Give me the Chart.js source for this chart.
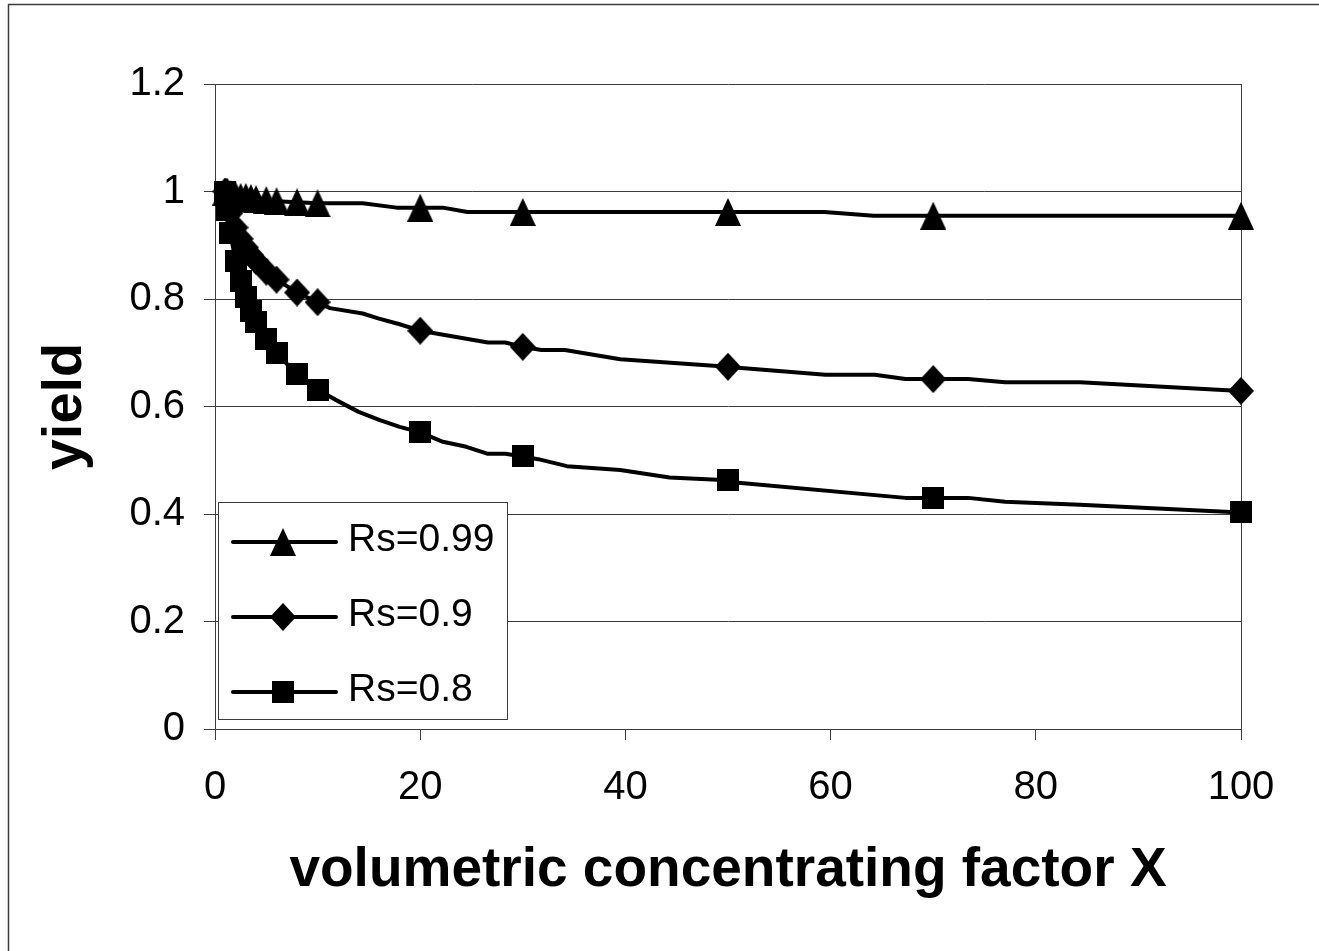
<!DOCTYPE html>
<html>
<head>
<meta charset="utf-8">
<title>yield vs volumetric concentrating factor</title>
<script src="https://cdn.jsdelivr.net/npm/chart.js@4.4.1/dist/chart.umd.min.js"></script>
<style>
  html, body { margin: 0; padding: 0; background: #fff; }
</style>
</head>
<body>
<canvas id="yieldChart" width="1319" height="951"></canvas>
<script>
// x positions carrying a marker, shared by all three curves
const markerX = [1, 1.2, 1.5, 2, 2.5, 3, 3.5, 4, 5, 6, 8, 10, 20, 30, 50, 70, 100];
const yieldRs099 = [1.0, 1.0, 0.995, 0.993, 0.99, 0.99, 0.988, 0.986, 0.984, 0.982, 0.98, 0.978, 0.97, 0.962, 0.962, 0.955, 0.955];
const yieldRs09 = [1.0, 0.98, 0.96, 0.933, 0.912, 0.896, 0.882, 0.871, 0.851, 0.836, 0.812, 0.794, 0.741, 0.711, 0.674, 0.651, 0.629];
const yieldRs08 = [1.0, 0.965, 0.922, 0.871, 0.833, 0.803, 0.778, 0.758, 0.725, 0.699, 0.66, 0.631, 0.552, 0.507, 0.463, 0.43, 0.403];

// extra (unmarked) points the curves pass through
const knotX099 = [14.4, 17.7, 22.2, 24.6, 59.4, 64.2];
const knotY099 = [0.978, 0.97, 0.97, 0.962, 0.962, 0.955];
const knotX09 = [11.2, 14.4, 15.9, 18, 26.6, 28.3, 31.8, 34.1, 39.5, 51, 59.5, 64.3, 67.3, 73.4, 77, 84.3];
const knotY09 = [0.783, 0.773, 0.764, 0.753, 0.719, 0.719, 0.705, 0.705, 0.688, 0.672, 0.659, 0.659, 0.651, 0.651, 0.645, 0.645];
const knotX08 = [12, 14, 16, 18, 22.1, 24.5, 26.6, 28.3, 31.5, 34.3, 39.5, 44.3, 51, 67.3, 73.4, 77, 84.3];
const knotY08 = [0.61, 0.59, 0.575, 0.562, 0.535, 0.525, 0.512, 0.512, 0.502, 0.489, 0.482, 0.468, 0.458, 0.43, 0.43, 0.423, 0.417];

const seriesLabels = ["Rs=0.99", "Rs=0.9", "Rs=0.8"];

const FONT = '"Liberation Sans", Arial, sans-serif';
const gridColor = "#3c3c3c";

function buildSeries(ys, kx, ky) {
  const pts = markerX.map((x, i) => ({ x: x, y: ys[i], marked: true }));
  kx.forEach((x, i) => pts.push({ x: x, y: ky[i], marked: false }));
  return pts.sort((a, b) => a.x - b.x);
}

// small sprites used as point styles (and reused by the legend)
function makeMarker(shape, w, h) {
  const c = document.createElement("canvas");
  c.width = w;
  c.height = h;
  const g = c.getContext("2d");
  g.fillStyle = "#000";
  g.beginPath();
  if (shape === "triangle") {
    g.moveTo(w / 2, 0);
    g.lineTo(w, h);
    g.lineTo(0, h);
  } else if (shape === "diamond") {
    g.moveTo(w / 2, 0);
    g.lineTo(w, h / 2);
    g.lineTo(w / 2, h);
    g.lineTo(0, h / 2);
  } else {
    g.rect(0, 0, w, h);
  }
  g.closePath();
  g.fill();
  return c;
}

const markers = [
  makeMarker("triangle", 26, 28),
  makeMarker("diamond", 26, 28),
  makeMarker("square", 22, 22),
];

function makeDataset(i, pts) {
  return {
    label: seriesLabels[i],
    data: pts,
    borderColor: "#000",
    borderWidth: 4,
    borderJoinStyle: "round",
    borderCapStyle: "round",
    tension: 0,
    fill: false,
    clip: false,
    pointStyle: markers[i],
    pointRadius: (c) => (c.raw && c.raw.marked ? 12 : 0),
    pointHoverRadius: 0,
  };
}

// frame around the whole figure
const outerFrame = {
  id: "outerFrame",
  beforeDraw(chart) {
    const ctx = chart.ctx;
    ctx.save();
    ctx.fillStyle = "#fff";
    ctx.fillRect(0, 0, chart.width, chart.height);
    ctx.strokeStyle = gridColor;
    ctx.lineWidth = 1.5;
    ctx.strokeRect(8.5, 4.5, chart.width + 10, chart.height + 10);
    ctx.restore();
  },
};

// boxed legend sitting in the lower-left corner of the plot
const insetLegend = {
  id: "insetLegend",
  afterDatasetsDraw(chart) {
    const { ctx, chartArea } = chart;
    const left = chartArea.left + 3;
    const right = chartArea.left + 292;
    const top = chartArea.bottom - 227;
    const bottom = chartArea.bottom - 10;
    ctx.save();
    ctx.fillStyle = "#fff";
    ctx.fillRect(left, top, right - left, bottom - top);
    ctx.strokeStyle = gridColor;
    ctx.lineWidth = 1;
    ctx.strokeRect(left + 0.5, top + 0.5, right - left, bottom - top);
    chart.data.datasets.forEach((ds, i) => {
      const y = top + 40 + i * 75;
      ctx.strokeStyle = "#000";
      ctx.lineWidth = 4;
      ctx.lineCap = "round";
      ctx.beginPath();
      ctx.moveTo(left + 15, y);
      ctx.lineTo(left + 118, y);
      ctx.stroke();
      const m = ds.pointStyle;
      ctx.drawImage(m, left + 65 - m.width / 2, y - m.height / 2);
      ctx.fillStyle = "#000";
      ctx.font = "39px " + FONT;
      ctx.textAlign = "left";
      ctx.textBaseline = "middle";
      ctx.fillText(ds.label, left + 130, y - 2);
    });
    ctx.restore();
  },
};

const ctx = document.getElementById("yieldChart").getContext("2d");

const yieldChart = new Chart(ctx, {
  type: "line",
  data: {
    datasets: [
      makeDataset(0, buildSeries(yieldRs099, knotX099, knotY099)),
      makeDataset(1, buildSeries(yieldRs09, knotX09, knotY09)),
      makeDataset(2, buildSeries(yieldRs08, knotX08, knotY08)),
    ],
  },
  options: {
    responsive: false,
    animation: false,
    devicePixelRatio: 1,
    events: [],
    layout: {
      padding: { left: 0, top: 84, right: 78, bottom: 0 },
    },
    plugins: {
      legend: { display: false },
      tooltip: { enabled: false },
    },
    scales: {
      x: {
        type: "linear",
        min: 0,
        max: 100,
        ticks: {
          stepSize: 20,
          color: "#000",
          padding: 24,
          maxRotation: 0,
          font: { family: FONT, size: 40 },
        },
        grid: {
          color: (c) => (c.tick && c.tick.value === 100 ? gridColor : "rgba(0,0,0,0)"),
          tickColor: gridColor,
          tickLength: 11,
          lineWidth: 1,
        },
        border: { color: gridColor, width: 1 },
        title: {
          display: true,
          text: "volumetric concentrating factor X",
          color: "#000",
          font: { family: FONT, size: 55, weight: "bold" },
          padding: { top: 0, bottom: 47 },
        },
        afterFit: (scale) => {
          scale.height = 222;
        },
      },
      y: {
        min: 0,
        max: 1.2,
        ticks: {
          stepSize: 0.2,
          color: "#000",
          padding: 19,
          font: { family: FONT, size: 40 },
          callback: (v) => String(Number(v.toFixed(1))),
        },
        grid: {
          color: gridColor,
          tickColor: gridColor,
          tickLength: 11,
          lineWidth: 1,
        },
        border: { color: gridColor, width: 1 },
        title: {
          display: true,
          text: "yield",
          color: "#000",
          font: { family: FONT, size: 56, weight: "bold" },
          padding: { top: 32, bottom: 0 },
        },
        afterFit: (scale) => {
          scale.width = 215;
        },
      },
    },
  },
  plugins: [outerFrame, insetLegend],
});
</script>
</body>
</html>
